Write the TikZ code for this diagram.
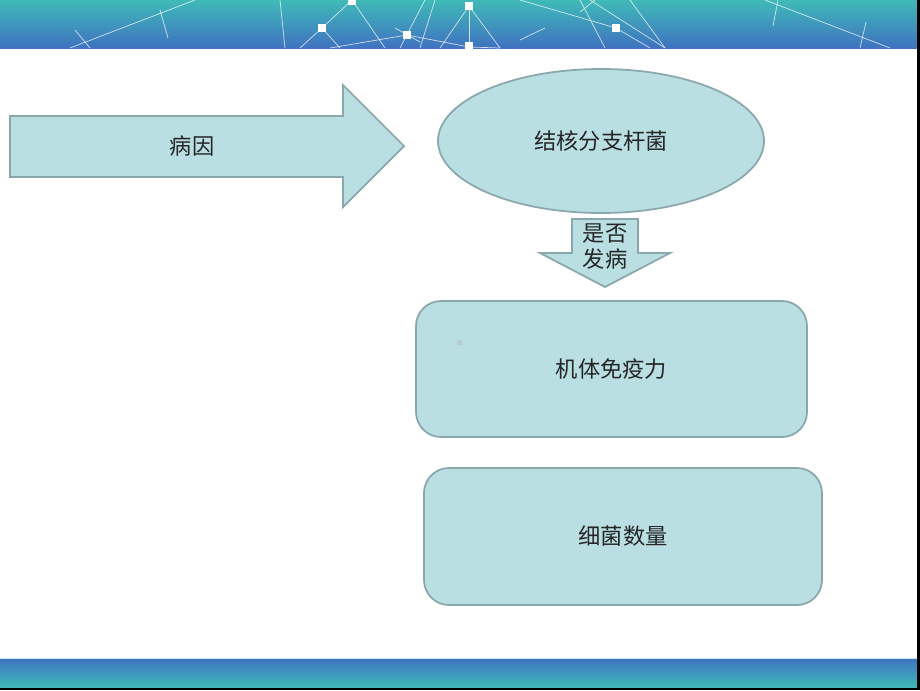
\documentclass[tikz,border=0pt]{standalone}
\usepackage{fontspec}
\setmainfont{Noto Sans CJK SC}
\usetikzlibrary{shapes.geometric}

\definecolor{boxfill}{HTML}{B9DFE2}
\definecolor{boxline}{HTML}{8AA7AC}
\definecolor{bannertop}{HTML}{3FBAB8}
\definecolor{bannerbot}{HTML}{3F72C0}

\begin{document}
\begin{tikzpicture}[x=0.03cm, y=-0.03cm]
      % Define styles
      \tikzset{
        panel/.style={draw=boxline, line width=1.5pt, fill=boxfill},
        roundbox/.style={panel, rounded corners=0.75cm, minimum height=4.08cm},
        caption/.style={font=\fontsize{19}{23}\selectfont, text=black!85},
        net/.style={white, opacity=0.75, line width=0.6pt},
        knot/.style={fill=white, minimum size=0.24cm, inner sep=0pt}
      }
      \useasboundingbox (0,0) rectangle (920,690);
      \fill[white] (0,0) rectangle (920,690);
      % Top banner
      \shade[top color=bannertop, bottom color=bannerbot] (0,0) rectangle (920,48);
      \begin{scope}
        \clip (0,0) rectangle (917,48);
        \draw[net] (70,48) -- (195,0);
        \draw[net] (75,30) -- (90,48);
        \draw[net] (160,10) -- (168,38);
        \draw[net] (285,48) -- (280,0);
        \draw[net] (300,48) -- (322,28) -- (352,0);
        \draw[net] (322,28) -- (340,48);
        \draw[net] (352,0) -- (385,48);
        \draw[net] (330,48) -- (407,35) -- (469,47) -- (500,48);
        \draw[net] (395,28) -- (420,42);
        \draw[net] (400,48) -- (425,0);
        \draw[net] (420,48) -- (435,0);
        \draw[net] (440,48) -- (469,6) -- (500,48);
        \draw[net] (469,6) -- (469,47);
        \draw[net] (520,0) -- (616,28) -- (650,48);
        \draw[net] (520,40) -- (545,28);
        \draw[net] (580,0) -- (605,48);
        \draw[net] (590,0) -- (665,48);
        \draw[net] (580,12) -- (595,0);
        \draw[net] (630,0) -- (665,48);
        \draw[net] (765,0) -- (890,48);
        \draw[net] (773,26) -- (778,0);
        \draw[net] (860,48) -- (866,22);
        \node[knot] (k1) at (352,1) {};
        \node[knot] (k2) at (322,28) {};
        \node[knot] (k3) at (407,35) {};
        \node[knot] (k4) at (469,6) {};
        \node[knot] (k5) at (469,46) {};
        \node[knot] (k6) at (616,28) {};
      \end{scope}
      % Bottom band
      \shade[top color=bannerbot, bottom color=bannertop] (0,658) rectangle (920,688);
      \draw[white!70!bannertop, line width=0.6pt] (0,658) -- (917,658);
      \fill[black] (0,688) rectangle (920,690);
      \fill[black] (917,0) rectangle (920,690);
      % Cause arrow
      \draw[panel] (10,116) -- (343,116) -- (343,85) -- (404,146) -- (343,207)
        -- (343,177) -- (10,177) -- cycle;
      \node[caption] (cause) at (192,146) {病因};
      % Pathogen
      \node[panel, ellipse, minimum width=9.78cm, minimum height=4.32cm, caption]
        (bacillus) at (601,141) {结核分支杆菌};
      % Down arrow
      \draw[panel] (572,219) -- (638,219) -- (638,253) -- (670,253) -- (605,287)
        -- (540,253) -- (572,253) -- cycle;
      \node[caption, align=center, inner sep=0pt] (onset) at (605,246.5)
        {是否\\发病};
      % Factors
      \node[roundbox, minimum width=11.73cm, caption] (immunity) at (611.5,369) {机体免疫力};
      \fill[boxline!60] (457,340) rectangle (462,345);
      \node[roundbox, minimum width=11.94cm, minimum height=4.11cm, caption]
        (count) at (623,536.5) {细菌数量};
\end{tikzpicture}
\end{document}
